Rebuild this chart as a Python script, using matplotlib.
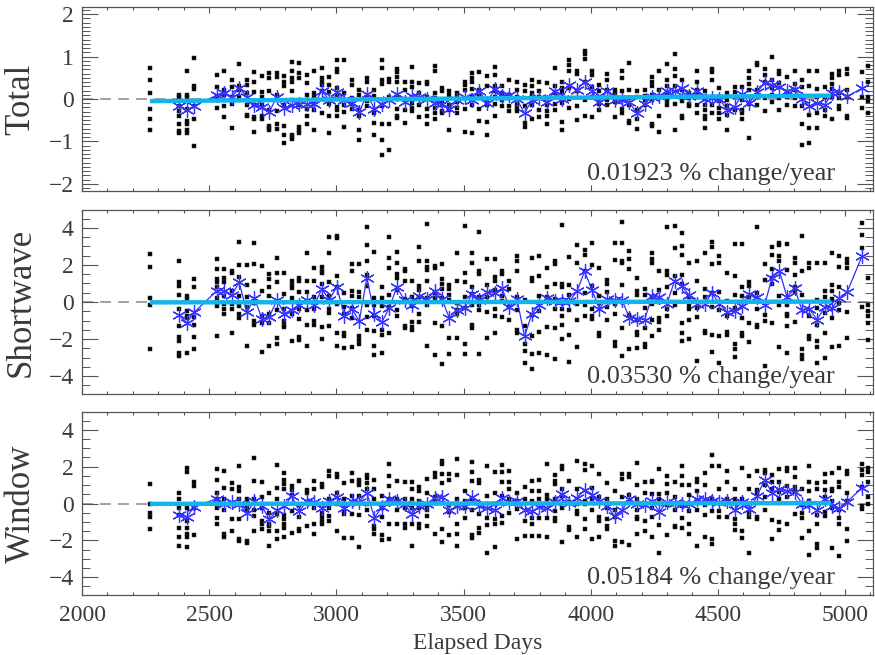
import matplotlib
matplotlib.use("Agg")
import matplotlib.pyplot as plt
from matplotlib.ticker import MultipleLocator

# ---------------- data ----------------
col_days = [2267, 2381, 2411, 2441,
            2530, 2560, 2589, 2618, 2648, 2678, 2707, 2736, 2766, 2796,
            2825, 2854, 2884, 2914, 2943, 2972, 3002, 3032, 3061, 3090,
            3120, 3150, 3179, 3208, 3238, 3268, 3297, 3326, 3356, 3386,
            3415, 3444, 3474, 3504, 3533, 3562, 3592, 3622, 3651, 3680,
            3710, 3740, 3769, 3798, 3828, 3858, 3887, 3916, 3946, 3976,
            4005, 4034, 4064, 4094, 4123, 4152, 4182, 4212, 4241, 4270,
            4300, 4330, 4359, 4388, 4418, 4448, 4477, 4506, 4536, 4566,
            4595, 4624, 4654, 4684, 4713, 4742, 4772, 4802, 4831, 4860,
            4890, 4920, 4949, 4978, 5008,
            5066, 5092]
mean_days = col_days[1:-1]

trend_days = [2267, 4945]
total_trend = [-0.05, 0.08]
short_trend = [-0.02, 0.02]
window_trend = [-0.02, 0.02]

total_mean = [-0.17, -0.27, -0.16,
              0.09, 0.14, 0.05, 0.26, 0.05, -0.15, -0.19, -0.30, 0.04, -0.21,
              -0.14, -0.11, -0.11, -0.12, 0.20, -0.03, 0.17, -0.02, -0.09, -0.31,
              0.11, -0.23, -0.12, -0.02, 0.12, -0.06, 0.08, 0.05, 0.00, -0.09,
              -0.12, -0.23, -0.03, 0.05, -0.02, 0.19, -0.09, 0.23, 0.06, 0.10,
              0.00, -0.34, -0.02, 0.02, -0.06, 0.18, 0.00, 0.34, 0.22, 0.40,
              0.18, -0.06, 0.19, -0.02, -0.03, -0.08, -0.34, -0.11, 0.05, 0.08,
              0.19, 0.18, 0.27, 0.08, 0.19, 0.00, 0.02, 0.00, -0.25, -0.19,
              0.12, -0.09, 0.16, 0.38, 0.33, 0.28, 0.19, 0.23, 0.00, -0.17,
              -0.09, -0.14, 0.14, 0.17, 0.06,
              0.25]

short_mean = [-0.68, -1.13, -0.56,
              0.61, 0.61, 0.39, 1.06, -0.56, 0.22, -0.90, -0.81, 0.09, -0.63,
              -0.41, -0.14, 0.13, -0.14, 0.70, 0.13, 0.81, -0.77, -0.36, -1.04,
              1.29, -0.65, -1.09, -0.32, 0.81, 0.09, -0.14, 0.30, 0.16, 0.57,
              0.16, -0.86, -0.45, -0.32, 0.43, 0.13, 0.52, 0.48, 0.74,
              -0.27, 0.16, -1.85, -0.63, -0.14, 0.22, 0.04, 0.04, 0.04, 0.57,
              1.65, 0.66, -0.36, 0.16, 0.13, 0.13, -0.86, -0.91, -0.95, 0.30,
              0.27, -0.09, 1.15, 0.84, 0.36, -0.09, -0.09, 0.48, -0.09, -0.54,
              -0.50, -0.20, 0.45, 0.27, -0.14, 1.29, 1.68, 0.27, 0.73, -0.45,
              -0.38, -0.95, -0.29, -0.32, 0.22, 0.52,
              2.46]

window_mean = [-0.63, -0.73, -0.20,
               0.27, -0.02, 0.09, -0.05, -0.52, 0.13, -0.14, -0.86, -0.38, -0.11,
               0.39, -0.41, 0.13, 0.07, -0.23, 0.16, 0.34, -0.23, 0.16, 0.09,
               0.57, -0.77, -0.20, 0.27, 0.16, -0.05, -0.56, -0.14, -0.02, 0.30,
               0.34, -0.38, -0.14, -0.14, 0.34, -0.14, -0.27, -0.36, 0.30,
               0.09, 0.16, -0.38, -0.41, -0.20, -0.27, 0.09, 0.52, 0.04, 0.30,
               0.75, 0.45, 0.16, -0.14, -0.68, -0.38, 0.27, -0.05, -0.09, 0.16,
               -0.45, 0.09, 0.04, -0.05, -0.02, 0.22, 0.27, 0.16, 0.09, 0.16,
               -0.36, 0.09, -0.32, 0.39, 1.29, 0.57, 0.81, 0.66, 0.61, -0.02,
               -0.09, -0.38, 0.27, -0.14, -0.27, 0.09,
               0.84]

total_pts = [
    [0.73, 0.44, 0.13, -0.23, -0.48, -0.73],
    [0.10, 0.05, -0.17, -0.29, -0.39, -0.60, -0.76, -0.81],
    [0.67, 0.10, 0.05, -0.23, -0.52, -0.58, -0.73, -0.81],
    [0.96, 0.31, 0.23, -0.17, -0.47, -1.11],
    [0.57, 0.28, 0.08, 0.00, -0.21],
    [0.65, 0.22, 0.10, -0.17, -0.42],
    [0.44, 0.28, 0.05, -0.12, -0.68],
    [0.83, 0.31, 0.22, 0.05],
    [0.44, 0.34, 0.13, -0.13, -0.37, -0.41],
    [0.63, 0.41, 0.16, -0.13, -0.42, -0.48, -0.78],
    [0.55, 0.16, 0.05, -0.13, -0.39, -0.48],
    [0.61, 0.49, 0.18, -0.25, -0.63, -0.68, -0.73],
    [0.61, 0.53, 0.10, 0.00, -0.29, -0.60, -0.70],
    [0.55, 0.41, 0.30, -0.13, -0.63, -0.84, -1.03],
    [0.88, 0.65, 0.49, 0.41, 0.18, -0.02, -0.84, -0.89, -0.95],
    [0.86, 0.61, 0.49, -0.13, -0.66, -0.72, -0.80],
    [0.57, 0.38, 0.10, -0.23, -0.41, -0.58],
    [0.65, 0.14, 0.05, -0.11, -0.25, -0.73],
    [0.73, 0.49, 0.41, 0.34, 0.20, -0.33],
    [0.53, 0.34, 0.16, -0.11, -0.39, -0.80],
    [0.91, 0.70, 0.63, 0.26, 0.10, -0.19, -0.25, -0.41],
    [0.91, 0.14, -0.13, -0.31, -0.66],
    [0.45, 0.34, 0.02, -0.11, -0.23],
    [0.22, 0.10, -0.25, -0.39, -0.73, -0.97],
    [0.49, 0.41, 0.05, -0.05, -0.17],
    [0.22, 0.08, -0.33, -0.56, -0.84],
    [0.91, 0.73, 0.45, 0.36, -0.17, -0.60, -0.97, -1.33],
    [0.47, 0.39, 0.05, -0.60, -1.20],
    [0.70, 0.63, 0.53, 0.41, 0.05, -0.23, -0.41, -0.45],
    [0.39, 0.22, 0.00, -0.27, -0.56],
    [0.75, 0.41, 0.28, 0.02, -0.09, -0.21, -0.29],
    [0.38, 0.14, 0.00, -0.13, -0.42],
    [0.41, 0.36, 0.05, -0.23, -0.41, -0.58],
    [0.78, 0.65, 0.13, 0.02, -0.21, -0.34, -0.48],
    [0.26, 0.18, -0.05, -0.13, -0.29, -0.33],
    [0.18, 0.10, -0.13, -0.25, -0.73],
    [0.13, 0.05, -0.08, -0.21, -0.34],
    [0.41, 0.34, 0.22, -0.23, -0.78],
    [0.61, 0.49, 0.39, 0.23, 0.05, -0.13, -0.81],
    [0.63, 0.22, 0.18, 0.08, -0.23, -0.52],
    [0.55, 0.31, -0.03, -0.13, -0.55, -0.84],
    [0.75, 0.57, 0.30, 0.18, 0.05, -0.11, -0.39],
    [0.31, 0.14, 0.05, -0.03, -0.17],
    [0.44, 0.10, -0.17, -0.29],
    [0.41, 0.22, 0.05, -0.11, -0.21, -0.29],
    [0.34, 0.18, -0.17, -0.56, -0.66],
    [0.44, 0.31, 0.14, 0.06, -0.13, -0.47],
    [0.41, 0.18, 0.05, -0.25, -0.42],
    [0.38, 0.02, -0.13, -0.29, -0.41, -0.60],
    [0.73, 0.30, 0.14, -0.11, -0.25],
    [0.41, 0.26, 0.16, -0.09, -0.55, -0.72],
    [0.92, 0.80, 0.67, 0.26, 0.00, -0.21],
    [0.65, 0.59, 0.18, -0.17, -0.50],
    [1.14, 1.06, 0.94, 0.41, -0.02, -0.39],
    [0.67, 0.57, 0.28, 0.05, -0.42],
    [0.34, 0.18, 0.05, -0.11, -0.25],
    [0.59, 0.44, 0.22, -0.02, -0.13],
    [0.22, 0.14, 0.05, -0.08, -0.42],
    [0.67, 0.49, 0.18, -0.03, -0.23, -0.33],
    [0.86, 0.22, 0.02, -0.13, -0.52, -0.56],
    [0.18, 0.05, -0.25, -0.48, -0.70],
    [0.22, 0.08, -0.03, -0.13],
    [0.52, 0.41, 0.30, 0.10, -0.02, -0.58, -0.64],
    [0.65, 0.22, 0.05, -0.39, -0.78],
    [0.83, 0.45, 0.31, 0.14, 0.05, -0.05, -0.13],
    [1.06, 0.70, 0.55, 0.31, -0.11, -0.72],
    [0.44, 0.22, -0.05, -0.39, -0.45],
    [0.14, 0.02, -0.11, -0.17],
    [0.65, 0.41, 0.22, 0.14, -0.13, -0.34],
    [0.18, 0.02, -0.13, -0.25, -0.39, -0.48, -0.68],
    [0.70, 0.63, 0.44, 0.05, -0.13, -0.33],
    [0.26, 0.05, -0.05, -0.21, -0.34, -0.48],
    [0.13, -0.03, -0.17, -0.37, -0.73],
    [0.28, 0.16, 0.05, -0.25],
    [0.28, 0.05, -0.02, -0.25, -0.34, -0.48],
    [0.65, 0.49, 0.36, 0.22, -0.11, -0.91],
    [0.86, 0.80, 0.22, 0.08, -0.13],
    [0.70, 0.57, 0.41, 0.02, -0.29],
    [0.98, 0.44, 0.26, 0.10, -0.08],
    [0.65, 0.59, 0.38, 0.02, -0.25],
    [0.53, 0.16, 0.05, -0.13],
    [0.67, 0.36, 0.22, 0.02, -0.17],
    [0.44, 0.28, -0.17, -0.60, -1.09],
    [0.65, 0.30, -0.37, -0.68, -1.03],
    [0.67, 0.23, 0.05, -0.34, -0.68],
    [0.28, 0.05, -0.25, -0.41],
    [0.59, 0.49, 0.36, 0.23, 0.05, -0.47],
    [0.67, 0.57, 0.14, 0.02, -0.17, -0.23],
    [0.70, 0.59, 0.22, 0.05, -0.39, -0.45],
    [0.63, 0.05, -0.21],
    [0.78, 0.41, 0.05, -0.05, -0.33],
]

short_pts = [
    [2.58, 1.88, 0.22, -0.14, -2.53],
    [2.19, 1.06, 0.88, 0.39, -0.38, -1.31, -1.88, -2.11, -2.74, -2.92],
    [0.34, 0.16, -0.50, -0.73, -0.86, -2.78],
    [1.24, 0.81, -0.81, -1.22, -1.90, -2.56],
    [2.31, 1.77, 1.24, 1.06, 0.81, 0.22, -0.20, -1.85],
    [1.77, 1.29, 1.06, 0.34, -0.09, -0.38, -0.63],
    [1.70, 1.56, 0.57, -0.09, -0.38, -1.67],
    [3.23, 2.01, 1.34, 0.34, -0.20, -0.63, -0.86],
    [2.01, 0.93, 0.27, -0.27, -2.38],
    [3.17, 2.06, 1.16, -0.05, -1.04, -1.22],
    [1.95, 0.57, -0.73, -1.16, -2.71],
    [1.52, 1.24, 0.81, 0.34, -0.63, -1.13, -2.35],
    [2.37, 1.56, 1.06, -0.41, -1.94, -2.29],
    [1.56, 0.45, -0.38, -1.04, -1.22, -1.34],
    [1.11, 0.93, 0.75, 0.22, -0.63, -2.11],
    [1.29, 1.16, 0.52, -0.38, -0.91, -1.88, -2.06],
    [2.67, 1.16, 0.52, -0.45, -1.22, -2.38],
    [1.83, 1.16, 0.27, -0.38, -1.04, -1.22],
    [1.88, 1.70, 1.56, 0.99, 0.27, -1.34, -1.99],
    [3.49, 2.67, 1.06, 0.34, -0.38, -0.59, -1.31],
    [3.57, 3.44, 1.42, 0.81, -0.09, -1.67, -2.38],
    [0.48, -0.27, -0.63, -1.67, -1.85, -2.47],
    [2.06, 1.70, 0.57, 0.34, -0.32, -0.86, -2.42],
    [2.06, 0.52, 0.27, -1.85, -2.06, -2.29],
    [4.03, 3.08, 2.19, 1.47, 0.84, -0.14, -0.81, -1.49],
    [2.72, 0.22, -0.14, -0.73, -1.58, -2.38, -2.89],
    [0.81, 0.22, -0.23, -1.52, -1.76, -2.78],
    [3.53, 2.37, 1.83, 0.39, -0.27, -1.70],
    [2.72, 2.13, 1.52, 1.29, 0.66, -0.45, -0.73],
    [1.77, 1.65, 1.16, 0.16, -1.31, -1.40],
    [1.11, 0.27, -0.20, -1.09, -1.34, -1.52],
    [2.96, 2.19, 0.88, 0.63, 0.27, -0.63, -1.09],
    [4.21, 2.19, 1.88, 1.74, 1.16, 0.22, -0.14, -2.38],
    [1.95, 1.83, 0.48, 0.22, -1.13, -2.89],
    [2.06, 1.24, 0.99, 0.70, 0.22, -1.31, -3.37],
    [0.93, 0.70, 0.39, 0.09, -1.94, -2.83],
    [2.63, 1.16, -0.05, -0.45, -0.63, -1.94],
    [4.10, 1.59, 1.06, 0.27, -0.32, -2.29, -2.83],
    [2.63, 2.13, 0.81, 0.45, -0.14, -1.22, -1.40],
    [3.80, 1.70, 1.52, 0.27, -0.14, -0.45, -2.83],
    [2.31, 0.93, 0.27, -0.56, -1.94],
    [2.31, 1.34, 1.11, 0.66, -0.38, -0.73, -1.70],
    [1.65, 1.52, 0.34, 0.04, -0.81],
    [1.16, 0.70, -0.27, -0.95],
    [2.46, 2.19, 1.70, 0.27, -0.41, -1.52, -1.70],
    [0.09, -1.27, -2.29, -2.65, -3.32],
    [2.37, 1.29, 1.16, -0.68, -1.85, -2.83, -3.64],
    [2.49, 1.42, 0.34, -0.50, -1.63, -2.78],
    [1.83, 0.81, 0.27, -1.34, -2.89],
    [2.24, 2.06, 0.99, 0.16, -0.38, -1.40, -3.10],
    [4.16, 0.99, 0.81, -0.38, -0.73, -1.22, -1.99],
    [2.42, 0.93, 0.39, -0.41, -1.76, -3.24],
    [3.08, 2.13, -0.09, -0.95, -2.42],
    [2.81, 2.54, 1.70, 0.48, -0.14, -0.73],
    [3.21, 2.01, 0.88, -0.38, -0.77, -0.91],
    [1.83, 0.34, -0.05, -1.70, -1.81],
    [1.20, 0.99, 0.52, -0.27, -0.95],
    [3.21, 2.28, -0.09, -0.63, -2.17, -2.38],
    [4.34, 3.21, 2.19, 2.10, 0.93, -1.40, -2.92],
    [2.78, 2.31, 1.77, -0.68, -2.53],
    [1.29, 0.57, 0.39, -0.95, -1.63, -1.76, -2.47],
    [0.70, 0.39, -0.32, -1.40, -2.29, -2.42],
    [2.63, 2.31, 2.13, 0.27, -0.09, -0.95, -1.81],
    [1.65, 0.63, -0.02, -0.86, -1.09, -1.49],
    [4.07, 1.65, 1.47, 0.81, -0.38, -0.73],
    [4.10, 2.90, 1.42, 0.48, -0.14],
    [3.75, 3.03, 2.54, 1.47, 0.99, -1.16, -1.70, -2.11],
    [2.13, 0.27, -0.23, -0.38, -0.95, -1.99],
    [2.24, 1.16, -0.32, -0.81, -3.19],
    [2.67, 0.70, 0.27, -1.58, -1.70],
    [3.26, 2.96, 2.06, 0.48, -0.27, -1.76, -2.71],
    [2.46, 2.10, 0.52, -0.41, -1.81, -3.28],
    [1.59, 0.04, -0.73, -1.63, -1.76],
    [3.14, 1.42, 0.39, -0.32, -2.29, -2.56, -2.96],
    [3.14, 0.81, 0.34, -0.86, -1.70, -1.85],
    [1.06, 0.88, 0.27, -1.16, -2.17],
    [4.03, 0.48, -0.38, -1.22, -1.34],
    [2.06, 1.20, -0.68, -1.04, -3.46],
    [2.96, 2.54, 1.77, 1.29, 0.99, -1.16],
    [3.21, 3.08, 2.46, 2.19, 0.30, -0.14, -2.42],
    [3.14, 1.74, -0.14, -0.63, -0.77, -1.31, -2.74],
    [2.37, 2.10, 1.47, 0.81, 0.52, -1.09],
    [3.57, 1.70, 0.39, -2.56, -2.89, -3.06],
    [2.13, 1.83, -0.77, -1.85, -1.99],
    [2.10, 0.09, -0.32, -1.22, -2.11, -2.42, -3.32],
    [2.13, 0.57, 0.27, -0.59, -1.67, -3.01],
    [2.63, 0.93, 0.57, 0.16, -0.86, -2.42],
    [2.46, 1.88, 0.81, -0.05, -0.45, -2.38],
    [2.31, 2.10, 1.83, -0.56, -1.94],
    [4.25, 3.62, 2.90, -0.27],
    [1.29, -0.14, -0.50, -0.73, -1.13, -2.06],
]

window_pts = [
    [1.06, -0.05, -0.50, -0.73, -1.40],
    [0.57, 0.22, -0.23, -0.63, -1.34, -1.81, -2.29],
    [1.95, 1.70, -0.23, -0.95, -1.31, -1.63, -1.81, -2.35],
    [1.16, 0.93, -0.23, -1.70],
    [1.88, 1.29, 0.57, 0.27, -0.23, -0.81, -1.13],
    [1.77, 0.84, 0.27, -0.38, -1.63, -1.81],
    [1.11, 0.81, -0.05, -0.86, -1.52],
    [2.06, 0.88, 0.70, 0.27, -0.86, -1.94, -2.06],
    [0.27, 0.09, -0.23, -0.38, -2.03, -2.17],
    [2.46, 1.24, 0.27, -0.38, -0.68, -1.52],
    [1.16, 0.34, -0.23, -0.95, -1.09, -1.40],
    [0.57, -0.50, -1.13, -1.22, -1.49, -2.29],
    [2.10, 0.84, 0.27, -0.59, -1.52, -1.94],
    [1.65, 1.29, 1.06, 0.81, -0.63, -0.86, -1.13, -1.34, -1.81],
    [0.93, 0.75, 0.48, -0.41, -1.58],
    [1.24, -0.09, -0.73, -1.40, -1.52],
    [0.75, 0.57, 0.09, -1.22],
    [1.24, 0.81, -0.27, -1.13, -1.63],
    [1.06, 0.88, -0.50, -0.73, -0.95, -1.09],
    [1.74, 1.47, 0.27, -0.23, -0.68, -0.95],
    [1.59, 1.42, 0.57, -0.02, -1.52],
    [1.11, 0.27, -0.41, -0.59, -1.85],
    [1.65, 1.20, 0.39, -0.56, -1.88],
    [1.29, 1.16, 0.99, 0.39, -0.63, -2.38],
    [1.56, 1.38, 1.11, 0.81, -0.02, -0.38],
    [1.29, 0.81, 0.27, -1.22, -1.40, -1.63],
    [0.39, -0.02, -0.23, -0.73, -1.70, -1.99],
    [2.13, 1.52, 0.93, 0.27, -0.05, -1.13, -1.94],
    [1.24, 0.27, -0.38, -1.13],
    [1.16, 0.27, -0.23, -1.13, -1.31],
    [1.16, 0.81, 0.27, -0.23, -1.13, -2.29],
    [0.88, 0.66, 0.16, -0.23, -1.13, -1.31],
    [1.34, 0.57, -0.14, -0.38, -0.68, -1.22],
    [1.65, 1.42, 0.34, 0.16, -1.63],
    [2.31, 2.13, 1.59, 1.11, -1.40, -2.11],
    [1.59, 1.29, -0.09, -0.45, -1.70],
    [2.42, 1.56, 0.27, -0.14, -1.13, -1.63, -2.29],
    [0.70, 0.16, -0.27, -0.81],
    [2.24, 1.70, 1.24, 0.27, -0.38, -1.70, -1.85],
    [1.29, 1.11, 0.04, -0.59, -1.31, -1.58],
    [2.06, 0.39, -0.81, -1.16, -2.71],
    [1.70, 0.57, -0.02, -0.86, -1.09, -2.38],
    [2.10, 1.70, 1.16, 0.39, -0.68, -1.04],
    [1.74, 1.16, 0.81, 0.27, -0.50],
    [0.57, 0.16, -0.32, -1.94],
    [0.88, 0.27, -0.95, -1.76],
    [1.20, 0.70, 0.13, -0.81, -1.09, -1.76],
    [1.29, 0.66, 0.27, -0.77, -1.76],
    [2.13, 0.45, 0.27, -0.77, -1.81],
    [1.56, 1.24, 1.06, 0.27, -0.41, -0.77, -0.95],
    [2.06, 1.88, 0.81, 0.39, -0.23, -2.11],
    [1.20, 0.09, -1.27, -1.45],
    [2.31, 0.81, -0.02, -0.41, -0.59, -1.81],
    [2.13, 1.83, 0.16, -0.05, -0.86, -1.40],
    [2.01, 0.84, 0.22, -0.38, -1.94],
    [1.59, 0.34, -0.73, -0.95, -1.81],
    [1.11, 0.22, -0.27, -0.86, -1.22, -1.40],
    [0.66, -0.38, -0.73, -2.03, -2.29],
    [1.59, 1.34, 0.34, -2.11],
    [1.59, 1.42, 0.48, 0.09, -2.24],
    [2.19, 0.99, 0.27, -0.38, -0.73, -0.86, -1.63],
    [1.16, 0.57, -0.02, -0.95, -1.52],
    [1.24, 1.16, 0.52, -0.27, -0.73, -1.81],
    [1.88, 0.52, 0.27, -1.16, -2.71],
    [1.47, 1.06, 0.57, -0.09, -1.70],
    [1.16, 0.34, -0.38, -1.22, -1.27],
    [2.01, 1.52, 0.99, -0.14, -0.81, -1.34],
    [1.02, 0.48, -0.41, -1.13, -1.63],
    [1.34, 1.16, 0.70, 0.16, -0.38, -2.29],
    [1.65, 0.99, -0.09, -0.63, -1.81],
    [2.63, 2.01, 0.27, -0.41, -1.94, -2.20],
    [2.06, 0.81, -0.41, -0.73],
    [1.77, 1.16, 0.27, -0.73],
    [0.81, 0.27, -0.86, -1.09, -1.45],
    [1.95, 0.27, 0.09, -1.52, -1.88],
    [1.47, 0.81, -0.50, -0.73, -2.71],
    [1.77, 0.75, 0.52, -0.73, -0.86],
    [1.83, 1.65, 1.02, 0.34, -0.38],
    [1.56, 1.16, 0.81, -0.91, -1.94],
    [1.88, 1.16, 0.63, 0.22, -0.99, -1.45],
    [1.95, 1.77, 0.93, 0.34, -1.09],
    [1.95, 1.42, 0.88, 0.66, -0.59],
    [0.81, -0.09, -0.50, -0.81, -1.85],
    [2.06, 1.16, 0.66, 0.16, -1.52, -2.78],
    [1.11, 0.81, -0.63, -1.09, -2.20, -2.42],
    [1.59, 1.16, 0.75, 0.34, -0.45, -0.68],
    [1.65, 0.81, 0.70, 0.13, -0.27, -2.42],
    [1.92, 1.16, 0.88, -0.38, -0.81, -1.13, -2.83],
    [1.74, 1.59, 0.57, 0.16, -1.40, -2.06],
    [2.13, 1.83, 1.56, 0.88, -0.14, -0.32],
    [1.95, 1.70, 1.16, 0.34, -0.05],
]

panel_names = ["Total", "Shortwave", "Window"]
panel_rates = ["0.01923 % change/year", "0.03530 % change/year",
               "0.05184 % change/year"]
ytick_vals = [[-2, -1, 0, 1, 2], [-4, -2, 0, 2, 4], [-4, -2, 0, 2, 4]]
xtick_vals = [2000, 2500, 3000, 3500, 4000, 4500, 5000]

# ---------------- drawing ----------------
plt.rcParams['font.family'] = ['Liberation Serif', 'DejaVu Serif']
TXT = '#3a3a3a'
SPINE = '#555555'

fig = plt.figure(figsize=(8.75, 6.55), dpi=100)
boxes = [(82, 7, 873, 191), (82, 210, 873, 394), (82, 412, 873, 595)]
W, H = 875.0, 655.0
ylims = [(-2.17, 2.17), (-4.97, 4.97), (-4.97, 4.97)]
yminor = [0.1, 0.5, 0.5]
means = [total_mean, short_mean, window_mean]
pts = [total_pts, short_pts, window_pts]
trends = [total_trend, short_trend, window_trend]

for i in range(3):
    l, t, r, b = boxes[i]
    ax = fig.add_axes([l / W, 1 - b / H, (r - l) / W, (b - t) / H])
    ax.set_xlim(2000, 5110)
    ax.set_ylim(*ylims[i])

    ax.axhline(0, color='#9a9a9a', lw=1.3, ls=(0, (6, 4)), zorder=1)

    xs, ys = [], []
    for d, col in zip(col_days, pts[i]):
        for v in col:
            xs.append(d)
            ys.append(v)
    ax.plot(xs, ys, ls='none', marker='s', ms=2.2, color='black',
            mec='#333333', mew=0.35, zorder=2)

    ax.plot(mean_days, means[i], color='#3030ff', lw=0.9,
            marker=(6, 2, 0), ms=10.5, mew=0.9, mec='#3535ff', zorder=3)

    ax.plot(trend_days, trends[i], color='#12b4ee', lw=3.2,
            solid_capstyle='butt', zorder=4)

    ax.text(0.952, 0.095, panel_rates[i], transform=ax.transAxes,
            ha='right', va='center', fontsize=19, color=TXT)

    ax.set_ylabel(panel_names[i], fontsize=25, color=TXT)
    ax.yaxis.set_label_coords(-0.056, 0.5)

    ax.set_yticks(ytick_vals[i])
    ax.set_yticklabels([("\u2212%d" % -v) if v < 0 else "%d" % v
                        for v in ytick_vals[i]])
    ax.yaxis.set_minor_locator(MultipleLocator(yminor[i]))
    ax.set_xticks(xtick_vals)
    ax.xaxis.set_minor_locator(MultipleLocator(100))
    if i < 2:
        ax.set_xticklabels([])
    else:
        ax.set_xlabel("Elapsed Days", fontsize=17, color=TXT, labelpad=5)

    ax.tick_params(axis='both', which='both', direction='in', top=True,
                   right=True, colors=SPINE, labelcolor=TXT, labelsize=17)
    ax.tick_params(axis='x', which='major', length=4, width=0.8, pad=7)
    ax.tick_params(axis='x', which='minor', length=2, width=0.8)
    ax.tick_params(axis='y', which='major', length=11.5, width=0.8, pad=6)
    ax.tick_params(axis='y', which='minor', length=5.8, width=0.7)
    for s in ax.spines.values():
        s.set_color(SPINE)
        s.set_linewidth(0.9)

fig.savefig("out.png", dpi=100)
